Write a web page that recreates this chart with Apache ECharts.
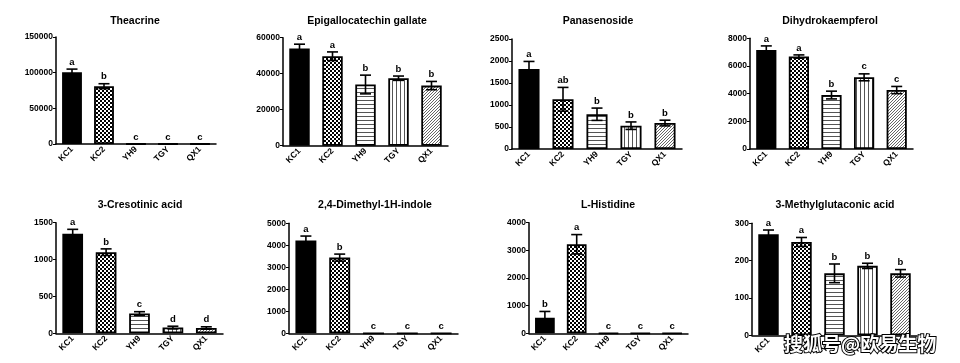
<!DOCTYPE html>
<html><head><meta charset="utf-8">
<script src="https://cdn.jsdelivr.net/npm/echarts@6/dist/echarts.min.js"></script>
<style>html,body{margin:0;padding:0;background:#fff}#c{width:960px;height:363px}</style>
</head><body><div id="c"></div>
<script>
// ---- data ----
const categories = ['KC1', 'KC2', 'YH9', 'TGY', 'QX1'];

const theacrineMean = [100500, 81000, 0, 0, 0];
const theacrineErr = [4500, 3500, 0, 0, 0];
const theacrineLetters = ['a', 'b', 'c', 'c', 'c'];

const egcgMean = [54000, 49700, 34000, 37500, 33400];
const egcgErr = [2400, 2400, 5200, 1200, 2300];
const egcgLetters = ['a', 'a', 'b', 'b', 'b'];

const panasenosideMean = [1820, 1130, 790, 530, 590];
const panasenosideErr = [170, 270, 140, 85, 65];
const panasenosideLetters = ['a', 'ab', 'b', 'b', 'b'];

const dihydroMean = [7150, 6680, 3900, 5180, 4260];
const dihydroErr = [300, 120, 280, 250, 260];
const dihydroLetters = ['a', 'a', 'b', 'c', 'c'];

const cresotinicMean = [1350, 1100, 268, 78, 72];
const cresotinicErr = [60, 45, 25, 18, 16];
const cresotinicLetters = ['a', 'b', 'c', 'd', 'd'];

const dimethylMean = [4220, 3440, 0, 0, 0];
const dimethylErr = [200, 160, 0, 0, 0];
const dimethylLetters = ['a', 'b', 'c', 'c', 'c'];

const histidineMean = [560, 3220, 0, 0, 0];
const histidineErr = [230, 350, 0, 0, 0];
const histidineLetters = ['b', 'a', 'c', 'c', 'c'];

const methylMean = [271, 250, 166, 186, 166];
const methylErr = [11, 12, 25, 7, 10];
const methylLetters = ['a', 'a', 'b', 'b', 'b'];

const titles = ['Theacrine', 'Epigallocatechin gallate', 'Panasenoside', 'Dihydrokaempferol',
  '3-Cresotinic acid', '2,4-Dimethyl-1H-indole', 'L-Histidine', '3-Methylglutaconic acid'];
const yMax = [150000, 60000, 2500, 8000, 1500, 5000, 4000, 300];
const yInterval = [50000, 20000, 500, 2000, 500, 1000, 1000, 100];
const means = [theacrineMean, egcgMean, panasenosideMean, dihydroMean, cresotinicMean, dimethylMean, histidineMean, methylMean];
const errs = [theacrineErr, egcgErr, panasenosideErr, dihydroErr, cresotinicErr, dimethylErr, histidineErr, methylErr];
const letters = [theacrineLetters, egcgLetters, panasenosideLetters, dihydroLetters, cresotinicLetters, dimethylLetters, histidineLetters, methylLetters];

// ---- layout ----
const layout = [
  {left: 56, top: 37, width: 160, height: 107, tx: 135, ty: 21},
  {left: 283, top: 37.7, width: 165, height: 108, tx: 367, ty: 21},
  {left: 512, top: 39, width: 170, height: 110, tx: 598, ty: 21},
  {left: 750, top: 38.3, width: 163, height: 110.7, tx: 830, ty: 21},
  {left: 56, top: 222.7, width: 167, height: 110.6, tx: 140, ty: 205.5},
  {left: 289, top: 223.3, width: 169, height: 110, tx: 375, ty: 205.5},
  {left: 529, top: 222.7, width: 159, height: 110.6, tx: 608, ty: 205.5},
  {left: 752, top: 223.3, width: 165, height: 112, tx: 835, ty: 205.5}
];

// ---- patterns ----
function mk(w, h, draw) {
  const c = document.createElement('canvas'); c.width = w; c.height = h;
  const g = c.getContext('2d'); g.fillStyle = '#fff'; g.fillRect(0, 0, w, h); draw(g);
  return {image: c, repeat: 'repeat'};
}
const checker = mk(4, 4, g => { g.fillStyle = '#000'; g.fillRect(0, 0, 2, 2); g.fillRect(2, 2, 2, 2); });
const hLines = mk(4, 4, g => { g.fillStyle = '#555'; g.fillRect(0, 0, 4, 1); });
const vLines = mk(4, 4, g => { g.fillStyle = '#555'; g.fillRect(0, 0, 1, 4); });
const dLines = mk(3, 3, g => { g.fillStyle = '#666'; g.fillRect(2, 0, 1, 1); g.fillRect(1, 1, 1, 1); g.fillRect(0, 2, 1, 1); });
const fills = ['#000', checker, hLines, vLines, dLines];

const FONT = 'Liberation Sans, Arial, sans-serif';
const grids = [], xAxes = [], yAxes = [], series = [], titleOpts = [];
layout.forEach((L, i) => {
  grids.push({left: L.left, top: L.top, width: L.width, height: L.height});
  titleOpts.push({text: titles[i], left: L.tx, top: L.ty - 5.5, textAlign: 'center', padding: 0,
    textStyle: {fontFamily: FONT, fontSize: 10.5, fontWeight: 'bold', color: '#000'}});
  xAxes.push({type: 'category', gridIndex: i, data: categories,
    axisLine: {lineStyle: {color: '#000', width: 1.5}},
    axisTick: {alignWithLabel: true, length: 3, lineStyle: {color: '#000', width: 1}},
    axisLabel: {rotate: 45, fontFamily: FONT, fontSize: 8.5, fontWeight: 'bold', color: '#000', margin: 4}});
  yAxes.push({type: 'value', gridIndex: i, min: 0, max: yMax[i], interval: yInterval[i],
    splitLine: {show: false},
    axisLine: {show: true, lineStyle: {color: '#000', width: 1.5}},
    axisTick: {show: true, length: 3, lineStyle: {color: '#000', width: 1}},
    axisLabel: {fontFamily: FONT, fontSize: 8.5, fontWeight: 'bold', color: '#000', margin: 3,
      formatter: v => String(v)}});
  series.push({type: 'bar', xAxisIndex: i, yAxisIndex: i, barWidth: '62%',
    data: means[i].map((v, j) => ({value: v, itemStyle: {color: fills[j]}})),
    itemStyle: {borderColor: '#000', borderWidth: 1.8}, z: 2});
  series.push({type: 'custom', xAxisIndex: i, yAxisIndex: i, z: 5,
    data: means[i].map((v, j) => [j, v - errs[i][j], v + errs[i][j], v]),
    renderItem: (params, api) => {
      const j = api.value(0), lo = api.value(1), hi = api.value(2), v = api.value(3);
      const pHi = api.coord([j, hi]), pLo = api.coord([j, lo]);
      const ch = [];
      const st = {stroke: '#000', lineWidth: 1.6};
      if (hi > v) {
        ch.push({type: 'line', shape: {x1: pHi[0], y1: pHi[1], x2: pLo[0], y2: pLo[1]}, style: st});
        ch.push({type: 'line', shape: {x1: pHi[0] - 5.5, y1: pHi[1], x2: pHi[0] + 5.5, y2: pHi[1]}, style: st});
        ch.push({type: 'line', shape: {x1: pLo[0] - 5.5, y1: pLo[1], x2: pLo[0] + 5.5, y2: pLo[1]}, style: st});
      }
      ch.push({type: 'text', style: {text: letters[i][params.dataIndex], x: pHi[0], y: pHi[1] - 2,
        align: 'center', verticalAlign: 'bottom', font: 'bold 9.5px ' + FONT, fill: '#000'}});
      return {type: 'group', children: ch};
    }});
});

const chart = echarts.init(document.getElementById('c'), null, {renderer: 'canvas'});
chart.setOption({
  animation: false,
  backgroundColor: '#fff',
  title: titleOpts,
  grid: grids, xAxis: xAxes, yAxis: yAxes, series: series,
  graphic: [{type: 'text', left: 783, top: 333, z: 100,
    style: {text: '搜狐号@欧易生物', font: 'bold 19px "Noto Sans CJK SC"', fill: '#fff', stroke: '#000', lineWidth: 2}}]
});
</script></body></html>
